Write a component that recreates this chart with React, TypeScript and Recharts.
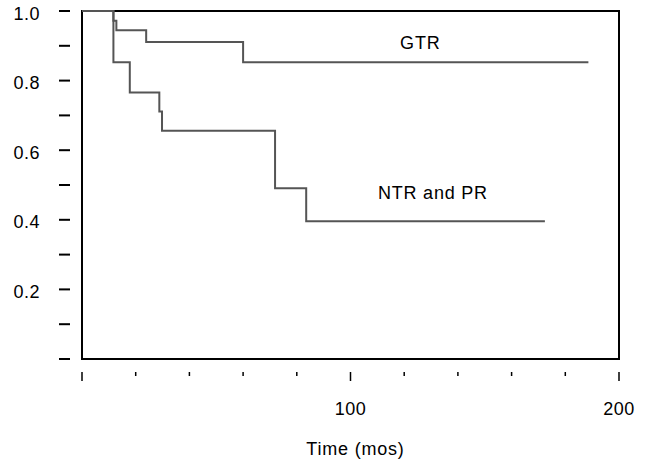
import { LineChart, Line, XAxis, YAxis, ReferenceArea, ReferenceDot } from 'recharts';

const gtrTimes = [0, 11.7, 12.8, 23.9, 60, 188.6];
const gtrSurvival = [1, 0.972, 0.945, 0.911, 0.853, 0.853];

const ntrTimes = [0, 11.7, 17.8, 28.8, 29.8, 71.9, 83.5, 172.4];
const ntrSurvival = [1, 0.853, 0.766, 0.711, 0.656, 0.491, 0.396, 0.396];

const xTicks = [0, 20, 40, 60, 80, 100, 120, 140, 160, 180, 200];
const xMajor = [0, 100, 200];
const xLabeled = [100, 200];

const yTicks = [0, 0.1, 0.2, 0.3, 0.4, 0.5, 0.6, 0.7, 0.8, 0.9, 1];
const yLabeled = [0.2, 0.4, 0.6, 0.8, 1];

const seriesNames = ['GTR', 'NTR and PR'];
const labelTimes = [126, 130.7];
const labelValues = [0.908, 0.477];

const gtrData = gtrTimes.map((t, i) => ({ t, s: gtrSurvival[i] }));
const ntrData = ntrTimes.map((t, i) => ({ t, s: ntrSurvival[i] }));

const FONT = '"Liberation Sans", Arial, sans-serif';

function XTick({ x, y, payload }: any) {
  const v = payload.value;
  const major = xMajor.includes(v);
  return (
    <g>
      <line x1={x} x2={x} y1={y + 13} y2={y + (major ? 22 : 17)} stroke="#000" strokeWidth={1.5} />
      {xLabeled.includes(v) && (
        <text x={x} y={y + 56} textAnchor="middle" fontSize={18} letterSpacing={0.5} fontFamily={FONT} fill="#000">
          {v}
        </text>
      )}
    </g>
  );
}

function YTick({ x, y, payload }: any) {
  const v = payload.value;
  const show = yLabeled.some((l) => Math.abs(l - v) < 1e-6);
  return (
    <g>
      <line x1={x - 23} x2={x - 12} y1={y} y2={y} stroke="#000" strokeWidth={2} />
      {show && (
        <text x={x - 42} y={y + 8.5} textAnchor="end" fontSize={18} letterSpacing={0.5} fontFamily={FONT} fill="#000">
          {v.toFixed(1)}
        </text>
      )}
    </g>
  );
}

export default function App() {
  return (
    <div style={{ position: 'fixed', top: 0, left: 0, width: 648, height: 463, background: '#fff' }}>
      <LineChart width={648} height={463} margin={{ top: 11, right: 29, left: 0, bottom: 0 }}>
        <XAxis
          dataKey="t"
          type="number"
          domain={[0, 200]}
          ticks={xTicks}
          interval={0}
          axisLine={false}
          tickLine={false}
          tickSize={0}
          tickMargin={0}
          height={104}
          tick={<XTick />}
          label={{ value: 'Time (mos)', position: 'insideBottom', offset: 8, dx: 5, fontSize: 18, letterSpacing: 0.8, fontFamily: FONT, fill: '#000' }}
        />
        <YAxis
          type="number"
          domain={[0, 1]}
          ticks={yTicks}
          interval={0}
          axisLine={false}
          tickLine={false}
          tickSize={0}
          tickMargin={0}
          width={82}
          tick={<YTick />}
        />
        <Line data={gtrData} dataKey="s" type="stepAfter" stroke="#555" strokeWidth={2} dot={false} isAnimationActive={false} />
        <Line data={ntrData} dataKey="s" type="stepAfter" stroke="#555" strokeWidth={2} dot={false} isAnimationActive={false} />
        {seriesNames.map((name, i) => (
          <ReferenceDot
            key={name}
            x={labelTimes[i]}
            y={labelValues[i]}
            r={0}
            fill="none"
            stroke="none"
            label={{ value: name, position: 'center', fontSize: 18, letterSpacing: 0.8, fontFamily: FONT, fill: '#000' }}
          />
        ))}
        <ReferenceArea x1={0} x2={200} y1={0} y2={1} fill="none" stroke="#000" strokeWidth={2} fillOpacity={0} />
      </LineChart>
    </div>
  );
}
